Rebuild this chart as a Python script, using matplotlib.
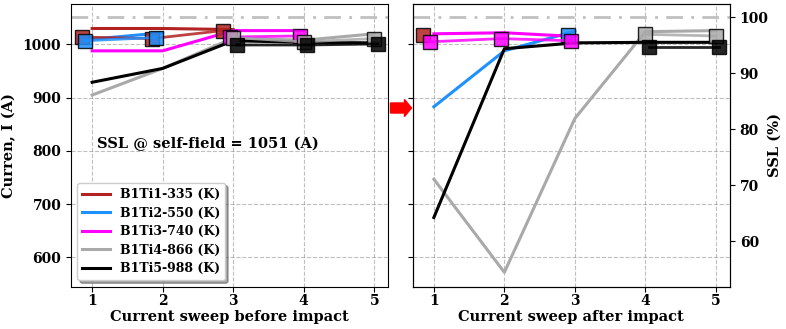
import matplotlib
matplotlib.use("Agg")
import matplotlib.pyplot as plt
import matplotlib.patches as mpatches

plt.rcParams["font.family"] = "serif"
plt.rcParams["font.serif"] = ["DejaVu Serif"]
plt.rcParams["font.weight"] = "bold"
plt.rcParams["axes.labelweight"] = "bold"
plt.rcParams["font.size"] = 10

SSL_SELF_FIELD = 1051  # A

labels = ["B1Ti1-335 (K)", "B1Ti2-550 (K)", "B1Ti3-740 (K)",
          "B1Ti4-866 (K)", "B1Ti5-988 (K)"]
colors = ["firebrick", "dodgerblue", "magenta", "darkgray", "black"]
offsets = [-0.15, -0.10, -0.05, 0.0, 0.05]   # shift of the square markers

# --- before impact: plain traces (sweep no. starts at 1) ---
ti1_before = [1030, 1030, 1028]
ti2_before = [1010, 1022]
ti3_before = [988, 988, 1026, 1026]
ti4_before = [905, 955, 1012, 1008, 1020]
ti5_before = [929, 955, 1007, 1004, 1003]

# --- before impact: marked traces (sweeps, currents) ---
ti1_before_mk_x = [1, 2, 3]
ti1_before_mk = [1014, 1011, 1026]
ti2_before_mk_x = [1, 2]
ti2_before_mk = [1007, 1013]
ti3_before_mk_x = [3, 4]
ti3_before_mk = [1014, 1016]
ti4_before_mk_x = [3, 4, 5]
ti4_before_mk = [1013, 1005, 1011]
ti5_before_mk_x = [3, 4, 5]
ti5_before_mk = [999, 999, 1001]

# --- after impact: plain traces ---
ti1_after = []
ti2_after = [883, 988, 1025]
ti3_after = [1020, 1022, 1015]
ti4_after = [747, 572, 861, 1024, 1026]
ti5_after = [675, 992, 1003, 1004, 1004]

# --- after impact: marked traces ---
ti1_after_mk_x = [1]
ti1_after_mk = [1017]
ti2_after_mk_x = [3]
ti2_after_mk = [1017]
ti3_after_mk_x = [1, 2, 3]
ti3_after_mk = [1005, 1011, 1007]
ti4_after_mk_x = [4, 5]
ti4_after_mk = [1019, 1016]
ti5_after_mk_x = [4, 5]
ti5_after_mk = [995, 995]

before_plain = [ti1_before, ti2_before, ti3_before, ti4_before, ti5_before]
before_mk = [(ti1_before_mk_x, ti1_before_mk), (ti2_before_mk_x, ti2_before_mk),
             (ti3_before_mk_x, ti3_before_mk), (ti4_before_mk_x, ti4_before_mk),
             (ti5_before_mk_x, ti5_before_mk)]
after_plain = [ti1_after, ti2_after, ti3_after, ti4_after, ti5_after]
after_mk = [(ti1_after_mk_x, ti1_after_mk), (ti2_after_mk_x, ti2_after_mk),
            (ti3_after_mk_x, ti3_after_mk), (ti4_after_mk_x, ti4_after_mk),
            (ti5_after_mk_x, ti5_after_mk)]

YLIM = (545, 1076)
XLIM = (0.7, 5.2)


def draw_panel(ax, plain, marked, with_labels):
    ax.axhline(SSL_SELF_FIELD, color="silver", lw=2, ls=(0, (6, 3, 1, 3)), zorder=1)
    for i, (ys, (mx, my)) in enumerate(zip(plain, marked)):
        xs = list(range(1, len(ys) + 1))
        ax.plot(xs, ys, color=colors[i], lw=2.2, zorder=2,
                label=labels[i] if with_labels else None)
        ax.plot([x + offsets[i] for x in mx], my, color=colors[i], lw=2,
                marker="s", ms=10, mec="black", mew=1, alpha=0.85, zorder=3)
    ax.set_xlim(*XLIM)
    ax.set_ylim(*YLIM)
    ax.set_xticks([1, 2, 3, 4, 5])
    ax.set_yticks([600, 700, 800, 900, 1000])
    ax.tick_params(axis="x", pad=2)
    ax.grid(True, color="gray", ls="--", lw=0.8, alpha=0.5)
    ax.set_axisbelow(True)


fig = plt.figure(figsize=(7.86, 3.29), dpi=100)
ax1 = fig.add_axes([71 / 786, 1 - 286.7 / 329, (388.3 - 71) / 786, 282.7 / 329])
ax2 = fig.add_axes([412.7 / 786, 1 - 286.7 / 329, (730 - 412.7) / 786, 282.7 / 329],
                   sharey=ax1)

draw_panel(ax1, before_plain, before_mk, True)
draw_panel(ax2, after_plain, after_mk, False)

ax1.set_xlabel("Current sweep before impact", fontsize=10.5, labelpad=1)
ax1.set_ylabel("Curren, I (A)", fontsize=10.5)
ax1.yaxis.set_label_coords(-0.172, 0.5)
ax1.text(1.07, 814, "SSL @ self-field = 1051 (A)", fontsize=10.5,
         fontweight="bold", va="center")
ax1.legend(loc="lower left", fontsize=9, shadow=True, framealpha=1,
           handlelength=2.2, labelspacing=0.45, borderaxespad=0.5)

ax2.set_xlabel("Current sweep after impact", fontsize=10.5, labelpad=1)
ax2.tick_params(axis="y", labelleft=False)

# SSL percentage scale tied to the self-field current
ax3 = ax2.twinx()
ax3.set_ylim(YLIM[0] / SSL_SELF_FIELD * 100, YLIM[1] / SSL_SELF_FIELD * 100)
ax3.set_yticks([60, 70, 80, 90, 100])
ax3.set_ylabel("SSL (%)", fontsize=10.5)
ax3.yaxis.set_label_coords(1.12, 0.5)

# arrow linking the two panels
arrow = mpatches.FancyArrow(3.905, 2.21, 0.21, 0, width=0.10, head_width=0.17,
                            head_length=0.07, length_includes_head=True,
                            color="red", transform=fig.dpi_scale_trans)
fig.add_artist(arrow)

fig.savefig("out.png", dpi=100)
